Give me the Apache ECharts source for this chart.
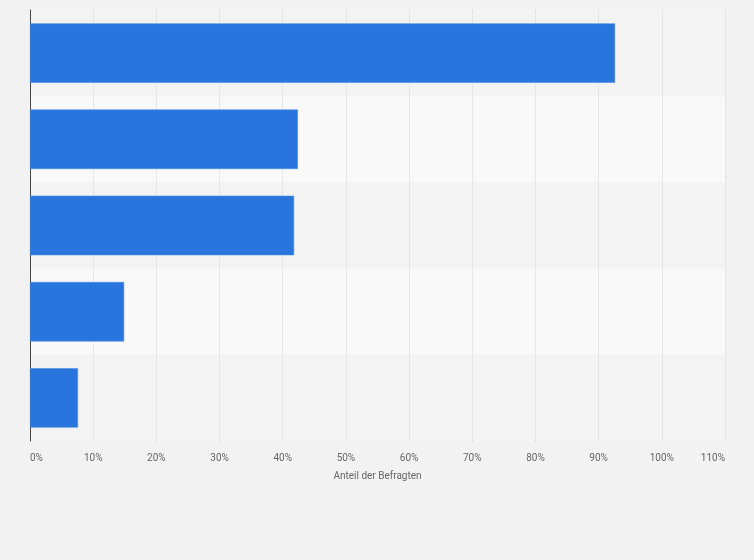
<!DOCTYPE html>
<html>
<head>
  <meta charset="utf-8">
  <title>Anteil der Befragten</title>
  <script src="https://cdn.jsdelivr.net/npm/echarts@6/dist/echarts.min.js"></script>
  <style>
    html, body { margin:0; padding:0; background:#f2f2f2; }
    #main { width:754px; height:560px; }
  </style>
</head>
<body>
<div id="main"></div>
<script>
// Kategorien (Beschriftungen im Original ausgeblendet)
var categories = ['Kategorie 1', 'Kategorie 2', 'Kategorie 3', 'Kategorie 4', 'Kategorie 5'];
// Anteil der Befragten in %
var values = [92.6, 42.4, 41.8, 14.9, 7.6];
var xTicks = [0, 10, 20, 30, 40, 50, 60, 70, 80, 90, 100, 110];

var myChart = echarts.init(document.getElementById('main'));
var option = {
  backgroundColor: '#f2f2f2',
  textStyle: { fontFamily: 'Roboto, Arial, sans-serif' },
  grid: { left: 30, right: 29, top: 10, bottom: 119, containLabel: false },
  xAxis: {
    type: 'value',
    min: xTicks[0],
    max: xTicks[xTicks.length - 1],
    interval: 10,
    name: 'Anteil der Befragten',
    nameLocation: 'middle',
    nameGap: 30,
    nameTextStyle: { color: '#666', fontSize: 10 },
    axisLine: { show: false },
    axisTick: { show: false },
    axisLabel: {
      color: '#666', fontSize: 10, margin: 12,
      alignMinLabel: 'left', alignMaxLabel: 'right',
      formatter: '{value}%'
    },
    splitLine: { show: true, lineStyle: { color: '#d6d6d6', type: [1, 1], width: 1 } }
  },
  yAxis: {
    type: 'category',
    data: categories,
    inverse: true,
    axisLabel: { show: false },
    axisTick: { show: false },
    axisLine: { show: true, lineStyle: { color: '#444', width: 1 } },
    splitArea: { show: true, areaStyle: { color: ['#f3f3f3', '#f9f9f9'] } }
  },
  series: [{
    type: 'bar',
    data: values,
    barCategoryGap: '31%',
    itemStyle: { color: '#2876dd', borderColor: '#4a8ce4', borderWidth: 0.6 },
    silent: true
  }]
};
myChart.setOption(option);
</script>
</body>
</html>
